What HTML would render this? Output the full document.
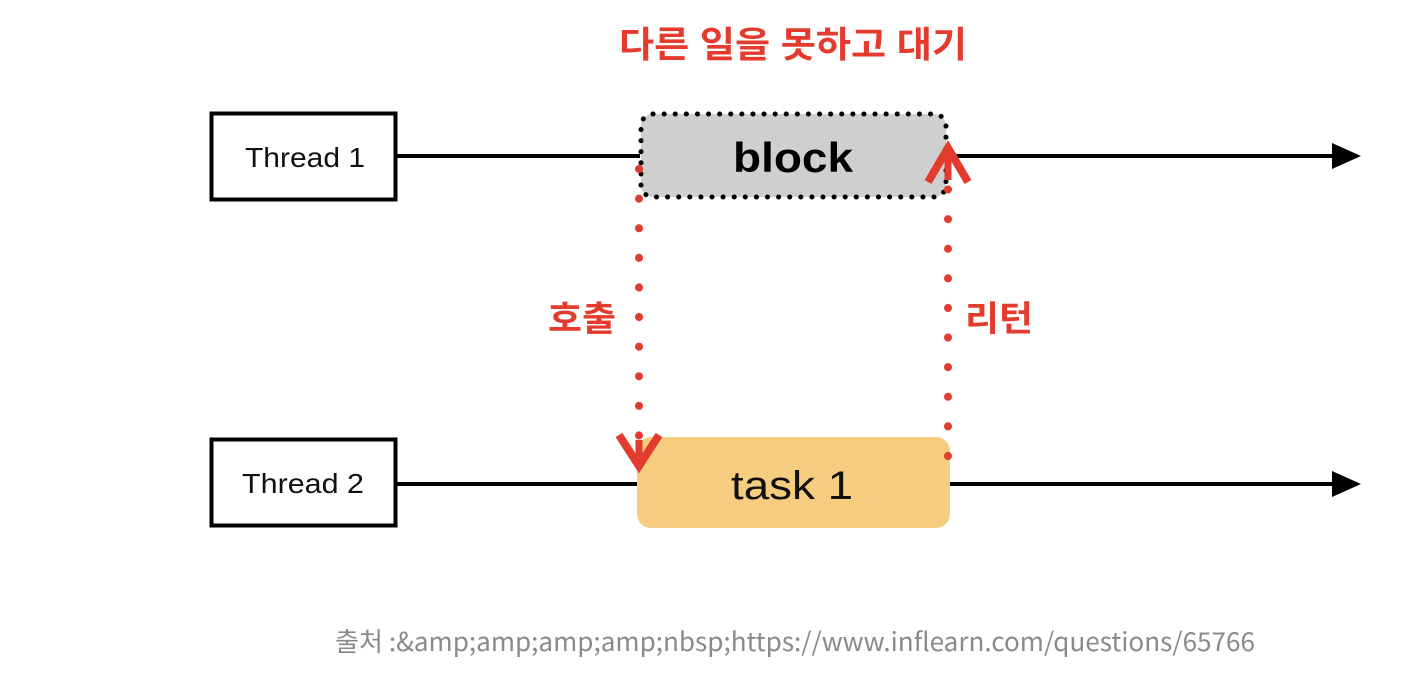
<!DOCTYPE html>
<html><head><meta charset="utf-8"><style>
html,body{margin:0;padding:0;background:#fff;width:1424px;height:700px;overflow:hidden}
</style></head><body>
<svg width="1424" height="700" viewBox="0 0 1424 700" xmlns="http://www.w3.org/2000/svg">
<text x="793" y="57" text-anchor="middle" textLength="348" lengthAdjust="spacingAndGlyphs" font-family="'Liberation Sans','Noto Sans CJK KR',sans-serif" font-weight="bold" font-size="36" fill="#e33b2e">다른 일을 못하고 대기</text>
<line x1="397" y1="156" x2="640" y2="156" stroke="#000" stroke-width="4"/>
<line x1="948" y1="156" x2="1335" y2="156" stroke="#000" stroke-width="4"/>
<polygon points="1332,143 1361,156 1332,169" fill="#000"/>
<line x1="397" y1="484" x2="637" y2="484" stroke="#000" stroke-width="4"/>
<line x1="950" y1="484" x2="1335" y2="484" stroke="#000" stroke-width="4"/>
<polygon points="1332,471 1361,484 1332,497" fill="#000"/>
<rect x="211.5" y="113.5" width="184" height="86" fill="#fff" stroke="#000" stroke-width="4"/>
<text x="305" y="167" text-anchor="middle" textLength="120" lengthAdjust="spacingAndGlyphs" font-family="'Liberation Sans',sans-serif" font-size="28" fill="#111">Thread 1</text>
<rect x="211.5" y="439.5" width="184" height="86" fill="#fff" stroke="#000" stroke-width="4"/>
<text x="303" y="493" text-anchor="middle" textLength="122" lengthAdjust="spacingAndGlyphs" font-family="'Liberation Sans',sans-serif" font-size="28" fill="#111">Thread 2</text>
<rect x="641" y="114" width="305" height="83" rx="12" fill="#cfcfcf" stroke="#000" stroke-width="5" stroke-dasharray="0.1 11" stroke-linecap="round"/>
<text x="793" y="172" text-anchor="middle" textLength="120" lengthAdjust="spacingAndGlyphs" font-family="'Liberation Sans',sans-serif" font-weight="bold" font-size="42" fill="#000">block</text>
<rect x="637" y="437" width="313" height="91" rx="14" fill="#f6cd7e"/>
<text x="792" y="499" text-anchor="middle" textLength="122" lengthAdjust="spacingAndGlyphs" font-family="'Liberation Sans',sans-serif" font-size="40" fill="#111">task 1</text>
<line x1="639" y1="169" x2="639" y2="460" stroke="#e33b2e" stroke-width="8" stroke-dasharray="0.1 29.5" stroke-linecap="round"/>
<polyline points="619,435 639,466 659,435" fill="none" stroke="#e33b2e" stroke-width="8"/>
<line x1="639" y1="440" x2="639" y2="466" stroke="#e33b2e" stroke-width="7"/>
<line x1="948" y1="456" x2="948" y2="175" stroke="#e33b2e" stroke-width="8" stroke-dasharray="0.1 29.5" stroke-linecap="round"/>
<polyline points="928,182 948,148 968,182" fill="none" stroke="#e33b2e" stroke-width="8"/>
<line x1="948" y1="148" x2="948" y2="180" stroke="#e33b2e" stroke-width="7"/>
<text x="582" y="331" text-anchor="middle" textLength="68" lengthAdjust="spacingAndGlyphs" font-family="'Liberation Sans','Noto Sans CJK KR',sans-serif" font-weight="bold" font-size="35" fill="#e33b2e">호출</text>
<text x="999" y="331" text-anchor="middle" textLength="68" lengthAdjust="spacingAndGlyphs" font-family="'Liberation Sans','Noto Sans CJK KR',sans-serif" font-weight="bold" font-size="35" fill="#e33b2e">리턴</text>
<text x="335" y="651" textLength="920" lengthAdjust="spacingAndGlyphs" font-family="'Noto Sans CJK KR',sans-serif" font-size="26" fill="#8a8a8a">출처 :&amp;amp;amp;amp;amp;nbsp;https://www.inflearn.com/questions/65766</text>
</svg>
</body></html>
